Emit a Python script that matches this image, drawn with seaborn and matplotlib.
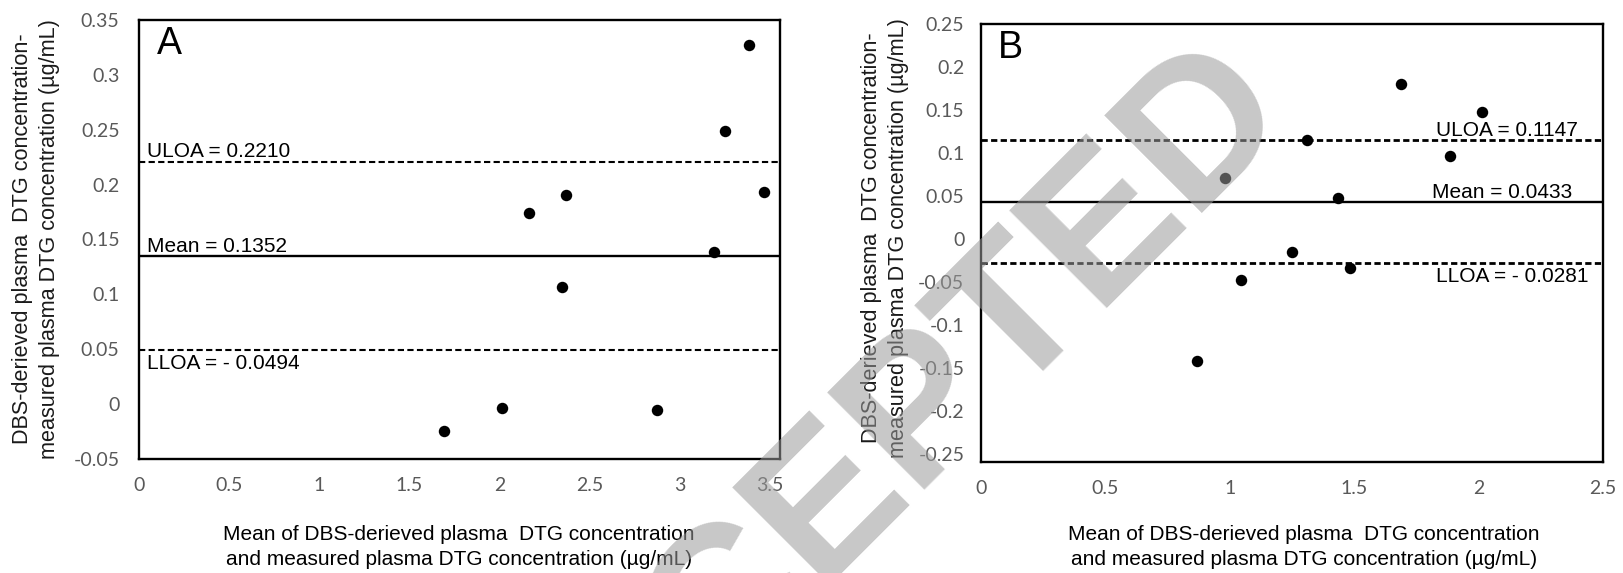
import numpy as np
import pandas as pd
import matplotlib
matplotlib.use("Agg")
import matplotlib.pyplot as plt
import seaborn as sns

# panel A data
a_mean = [1.689, 2.015, 2.162, 2.347, 2.369, 2.873, 3.188, 3.252, 3.382, 3.465]
a_diff = [-0.0243, -0.0031, 0.1742, 0.1071, 0.1906, -0.0049, 0.1384, 0.249, 0.327, 0.1936]
# lines as drawn in the figure: ULOA, mean, LLOA
a_lines = [0.2210, 0.1352, 0.0494]
a_labels = ["ULOA = 0.2210", "Mean = 0.1352", "LLOA = - 0.0494"]
a_yticks = [-0.05, 0, 0.05, 0.1, 0.15, 0.2, 0.25, 0.3, 0.35]
a_xticks = [0, 0.5, 1, 1.5, 2, 2.5, 3, 3.5]

# panel B data
b_mean = [0.870, 0.982, 1.044, 1.252, 1.309, 1.436, 1.485, 1.687, 1.887, 2.014]
b_diff = [-0.1413, 0.0716, -0.0477, -0.0146, 0.1147, 0.0473, -0.0331, 0.180, 0.0962, 0.148]
b_lines = [0.1147, 0.0433, -0.0281]
b_labels = ["ULOA = 0.1147", "Mean = 0.0433", "LLOA = - 0.0281"]
b_yticks = [-0.25, -0.2, -0.15, -0.1, -0.05, 0, 0.05, 0.1, 0.15, 0.2, 0.25]
b_xticks = [0, 0.5, 1, 1.5, 2, 2.5]

ylabel = "DBS-derieved plasma  DTG concentration-\nmeasured plasma DTG concentration (\u00b5g/mL)"
xlabel = "Mean of DBS-derieved plasma  DTG concentration\nand measured plasma DTG concentration (\u00b5g/mL)"

sns.set_theme(style="white")
plt.rcParams['font.family'] = ['Liberation Sans', 'DejaVu Sans']

W, H = 1623, 573
fig = plt.figure(figsize=(W / 100, H / 100), dpi=100)

def box(l, t, r, b):
    return [l / W, 1 - b / H, (r - l) / W, (b - t) / H]

axA = fig.add_axes(box(139, 20, 780, 459))
axB = fig.add_axes(box(981, 24, 1603, 462))


def fmt(v):
    s = ("%g" % v)
    return "0" if s in ("0", "-0") else s


def panel(ax, xs, ys, lines, labels, xticks, yticks, xlim, ylim, letter, right_side, ypad, dash_lw):
    df = pd.DataFrame({"x": xs, "y": ys})
    sns.scatterplot(data=df, x="x", y="y", ax=ax, color="black", s=68,
                    edgecolor="black", linewidth=0, zorder=3)
    ax.axhline(lines[0], color="black", lw=dash_lw, ls=(0, (4.5 / dash_lw, 2.4 / dash_lw)), zorder=2)
    ax.axhline(lines[1], color="black", lw=1.7, ls="-", zorder=2)
    ax.axhline(lines[2], color="black", lw=dash_lw, ls=(0, (4.5 / dash_lw, 2.4 / dash_lw)), zorder=2)
    ax.set_xlim(*xlim)
    ax.set_ylim(*ylim)
    ax.set_xticks(xticks)
    ax.set_yticks(yticks)
    ax.set_xticklabels([fmt(v) for v in xticks], fontfamily="Lato", fontsize=14, color="#595959")
    ax.set_yticklabels([fmt(v) for v in yticks], fontfamily="Lato", fontsize=14, color="#595959")
    ax.tick_params(length=0)
    ax.tick_params(axis="x", pad=13)
    ax.tick_params(axis="y", pad=ypad)
    ax.set_xlabel("")
    ax.set_ylabel("")
    for sp in ax.spines.values():
        sp.set_color("black")
        sp.set_linewidth(1.7)
    ax.text(0.047, 0.945, letter, transform=ax.transAxes, fontsize=27,
            ha="center", va="center", color="black")
    if right_side:
        xs_lab = [0.959, 0.951, 0.976]
        ha = "right"
    else:
        xs_lab = [0.012, 0.012, 0.012]
        ha = "left"
    trans = ax.get_yaxis_transform()
    for i, (val, lab) in enumerate(zip(lines, labels)):
        if i < 2:
            ax.annotate(lab, xy=(xs_lab[i], val), xycoords=trans, xytext=(0, 3),
                        textcoords="offset points", ha=ha, va="baseline",
                        fontsize=15, color="black")
        else:
            ax.annotate(lab, xy=(xs_lab[i], val), xycoords=trans, xytext=(0, -3),
                        textcoords="offset points", ha=ha, va="top",
                        fontsize=15, color="black")


panel(axA, a_mean, a_diff, a_lines, a_labels, a_xticks, a_yticks,
      (0, 3.555), (-0.05, 0.35), "A", False, 14, 1.5)
panel(axB, b_mean, b_diff, b_lines, b_labels, b_xticks, b_yticks,
      (0, 2.5), (-0.259, 0.246), "B", True, 12, 2.0)

# axis titles
fig.text(36 / W, 1 - 239 / H, ylabel, rotation=90, ha="center", va="center",
         fontsize=15.6, color="#1a1a1a", linespacing=1.4, multialignment="center")
fig.text(885 / W, 1 - 238 / H, ylabel, rotation=90, ha="center", va="center",
         fontsize=15.6, color="#1a1a1a", linespacing=1.4, multialignment="center")
fig.text(459 / W, 1 - 547 / H, xlabel, ha="center", va="center",
         fontsize=15, color="black", linespacing=1.4, multialignment="center")
fig.text(1304 / W, 1 - 547 / H, xlabel, ha="center", va="center",
         fontsize=15, color="black", linespacing=1.4, multialignment="center")

# watermark
fig.text(903 / W, 1 - 507 / H, "ACCEPTED", rotation=45, rotation_mode="anchor",
         ha="center", va="baseline", fontsize=145, fontweight="bold",
         color="#9b9b9b", alpha=0.55, zorder=10)

fig.savefig("out.png", dpi=100)
